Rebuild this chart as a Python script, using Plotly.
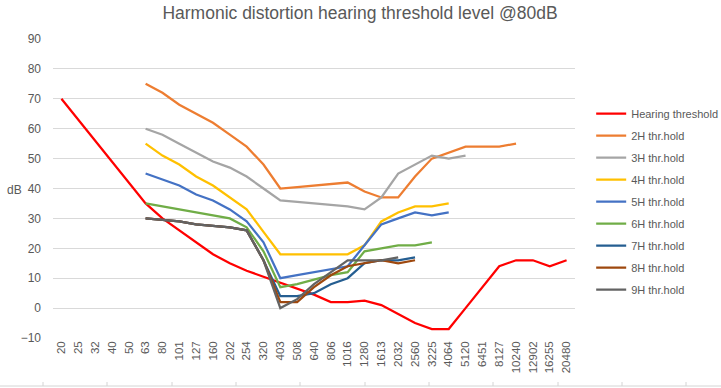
import plotly.graph_objects as go

freqs = ["20", "25", "32", "40", "50", "63", "80", "101", "127", "160", "202", "254", "320", "403",
         "508", "640", "806", "1016", "1280", "1613", "2032", "2560", "3225", "4064", "5120",
         "6451", "8127", "10240", "12902", "16255", "20480"]

N = None
hearing = [70, 63, 56, 49, 42, 35, 30, 26, 22, 18, 15, 12.5, 10.5, 8.5, 6.5, 4.5, 2, 2, 2.5, 1,
           -2, -5, -7, -7, 0, 7, 14, 16, 16, 14, 16]
h2 = [N, N, N, N, N, 75, 72, 68, 65, 62, 58, 54, 48, 40, 40.5, 41, 41.5, 42, 39, 37, 37, 44, 50,
      52, 54, 54, 54, 55, N, N, N]
h3 = [N, N, N, N, N, 60, 58, 55, 52, 49, 47, 44, 40, 36, 35.5, 35, 34.3, 34, 33, 37, 45, 48, 51,
      50, 51, N, N, N, N, N, N]
h4 = [N, N, N, N, N, 55, 51, 48, 44, 41, 37, 33, 25.5, 18, 18, 18, 18, 18, 21, 29, 32, 34, 34,
      35, N, N, N, N, N, N, N]
h5 = [N, N, N, N, N, 45, 43, 41, 38, 36, 33, 29, 22, 10, 11, 12, 13, 14, 21, 28, 30, 32, 31, 32,
      N, N, N, N, N, N, N]
h6 = [N, N, N, N, N, 35, 34, 33, 32, 31, 30, 27, 19, 7, 8, 9.5, 11, 12, 19, 20, 21, 21, 22, N,
      N, N, N, N, N, N, N]
h7 = [N, N, N, N, N, 30, 29.5, 29, 28, 27.5, 27, 26, 16, 4, 4, 5, 8, 10, 15, 16, 16, 17, N, N,
      N, N, N, N, N, N, N]
h8 = [N, N, N, N, N, 30, 29.5, 29, 28, 27.5, 27, 26, 16, 2, 2, 7, 11, 14, 15, 16, 15, 16, N, N,
      N, N, N, N, N, N, N]
h9 = [N, N, N, N, N, 30, 29.5, 29, 28, 27.5, 27, 26, 16, 0, 3, 8, 12, 16, 16, 16, 17, N, N, N,
      N, N, N, N, N, N, N]

names = ["Hearing threshold", "2H thr.hold", "3H thr.hold", "4H thr.hold", "5H thr.hold",
         "6H thr.hold", "7H thr.hold", "8H thr.hold", "9H thr.hold"]
series = [hearing, h2, h3, h4, h5, h6, h7, h8, h9]
colors = ["#FF0000", "#ED7D31", "#A5A5A5", "#FFC000", "#4472C4", "#70AD47", "#255E91",
          "#9E480E", "#636363"]

W, H = 721, 388
ML, MR, MT, MB = 53, 146, 39, 50
PW, PH = W - ML - MR, H - MT - MB


def px_x(x):
    return (x - ML) / PW


def px_y(y):
    return (H - MB - y) / PH


fig = go.Figure()
for i, (nm, ys, c) in enumerate(zip(names, series, colors)):
    fig.add_trace(go.Scatter(x=freqs, y=ys, name=nm, mode="lines",
                             line=dict(color=c, width=2.25), legendgroup=str(i)))

fig.update_layout(
    width=W, height=H,
    margin=dict(l=ML, r=MR, t=MT, b=MB, autoexpand=False),
    paper_bgcolor="white", plot_bgcolor="white",
    font=dict(family="Liberation Sans, Arial, sans-serif", color="#595959", size=11),
    title=dict(text="Harmonic distortion hearing threshold level @80dB", x=0.4993,
               xref="container", xanchor="center", y=1 - 12.5 / H, yanchor="middle",
               font=dict(size=17.5, color="#595959")),
    showlegend=True,
    legend=dict(x=1.031, xanchor="left", y=0.799, yanchor="top", traceorder="grouped",
                tracegroupgap=3, font=dict(size=11, color="#595959"),
                bgcolor="rgba(0,0,0,0)"),
    xaxis=dict(type="category", categoryorder="array", categoryarray=freqs,
               range=[-0.5, len(freqs) - 0.5], tickangle=-90, showgrid=False,
               showline=False, zeroline=False, ticks="", tickfont=dict(size=11.5),
               automargin=False),
    yaxis=dict(range=[-10, 90], dtick=10, showgrid=True, gridcolor="#D9D9D9", gridwidth=1,
               zeroline=False, showline=False, ticks="", tickfont=dict(size=12),
               ticklabelstandoff=11, automargin=False),
)
fig.add_annotation(text="dB", xref="paper", yref="y", x=px_x(14), y=39.5, showarrow=False,
                   xanchor="center", yanchor="middle", font=dict(size=12, color="#595959"))

# faint worksheet cell border visible at the bottom edge of the screenshot
fig.add_shape(type="line", xref="paper", yref="paper", x0=px_x(0), x1=px_x(W),
              y0=px_y(386), y1=px_y(386), line=dict(color="#D4D4D4", width=1))
for cx in [43, 107, 172, 236, 300, 365, 429, 493, 558, 622, 686]:
    fig.add_shape(type="line", xref="paper", yref="paper", x0=px_x(cx), x1=px_x(cx),
                  y0=px_y(386), y1=px_y(382), line=dict(color="#D4D4D4", width=1))

fig.write_html("out.html", config={"displayModeBar": False},
               post_script="document.body.style.margin='0';")
